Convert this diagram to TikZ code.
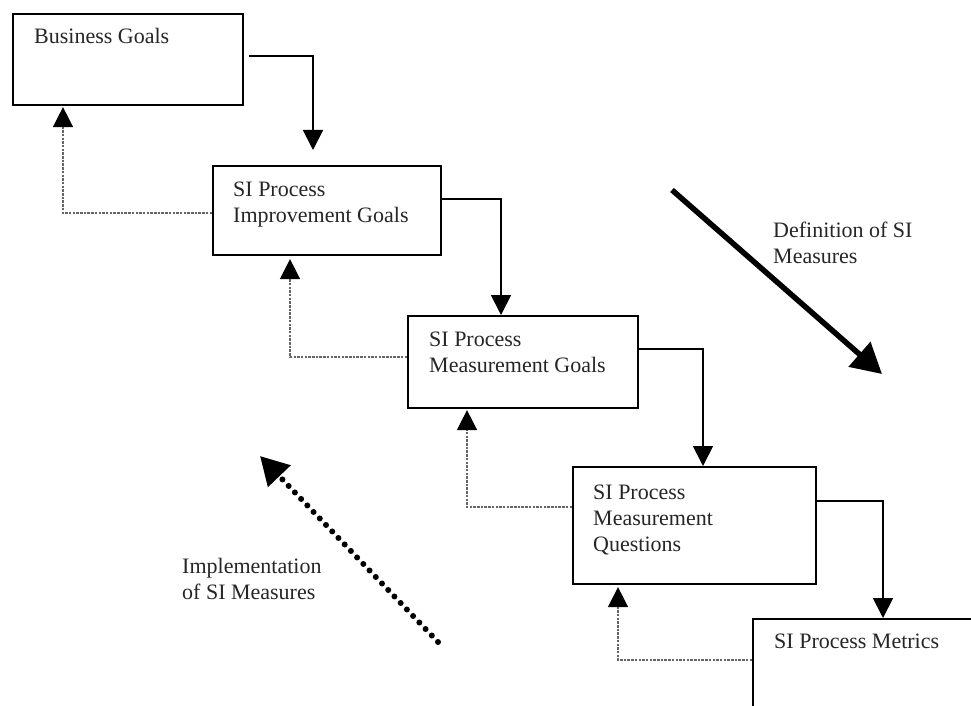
\documentclass[tikz,border=0pt]{standalone}
\usepackage{fontspec}
\setmainfont{Liberation Serif}
\usetikzlibrary{arrows.meta}
\begin{document}
\begin{tikzpicture}[x=1pt,y=-1pt,
  box/.style={draw, line width=2.1pt, inner sep=0pt, anchor=north west, fill=white},
  lbl/.style={font=\fontsize{22}{26}\selectfont, text=black!85, align=left, anchor=north west, inner sep=0pt},
  flow/.style={line width=1.8pt, -{Triangle[width=20pt,length=20pt]}},
  fb/.style={line width=1.5pt, draw=black!60, dash pattern=on 2.5pt off 1.2pt, -{Triangle[width=20pt,length=20pt,color=black]}},
  bigarrow/.style={line width=5.5pt, -{Triangle[width=32pt,length=30pt]}},
  dotarrow/.style={line width=6pt, line cap=round, dash pattern=on 0pt off 9pt, -{Triangle[width=30pt,length=28pt]}}
  ]
\fill[white] (0,0) rectangle (971,706);
\useasboundingbox (0,0) rectangle (971,706);
\clip (0,0) rectangle (971,706);

% boxes
\node[box, minimum width=230pt, minimum height=91pt] (b1) at (12,13) {};
\node[box, minimum width=228pt, minimum height=89pt] (b2) at (212,165) {};
\node[box, minimum width=230pt, minimum height=92pt] (b3) at (407,315) {};
\node[box, minimum width=243pt, minimum height=117pt] (b4) at (572,466) {};
\node[box, minimum width=260pt, minimum height=120pt] (b5) at (752,618) {};

% labels
\node[lbl] (t1) at (34,28) {Business Goals};
\node[lbl] (t2) at (233,182) {SI Process\\Improvement Goals};
\node[lbl] (t3) at (429,332) {SI Process\\Measurement Goals};
\node[lbl] (t4) at (593,485) {SI Process\\Measurement\\Questions};
\node[lbl] (t5) at (774,634) {SI Process Metrics};
\node[lbl] (tdef) at (773,222) {Definition of SI\\Measures};
\node[lbl] (timp) at (182,558) {Implementation\\of SI Measures};

% forward flow
\draw[flow] ([shift={(5,43)}]b1.north east) -| ([shift={(101,-15)}]b2.north west);
\draw[flow] ([shift={(0,34)}]b2.north east) -| ([shift={(94,0)}]b3.north west);
\draw[flow] ([shift={(0,34)}]b3.north east) -| ([shift={(131,0)}]b4.north west);
\draw[flow] ([shift={(0,35)}]b4.north east) -| ([shift={(131,0)}]b5.north west);

% feedback
\draw[fb] ([shift={(0,48)}]b2.north west) -| ([shift={(51,1)}]b1.south west);
\draw[fb] ([shift={(0,42)}]b3.north west) -| ([shift={(78,3)}]b2.south west);
\draw[fb] ([shift={(0,41)}]b4.north west) -| ([shift={(60,1)}]b3.south west);
\draw[fb] ([shift={(0,42)}]b5.north west) -| ([shift={(46,2)}]b4.south west);

% big arrows
\coordinate (d1) at (672,190);
\coordinate (d2) at (882,374);
\draw[bigarrow] (d1) -- (d2);
\coordinate (i1) at (438,642);
\coordinate (i2) at (260,456);
\draw[dotarrow] (i1) -- (i2);
\end{tikzpicture}
\end{document}
